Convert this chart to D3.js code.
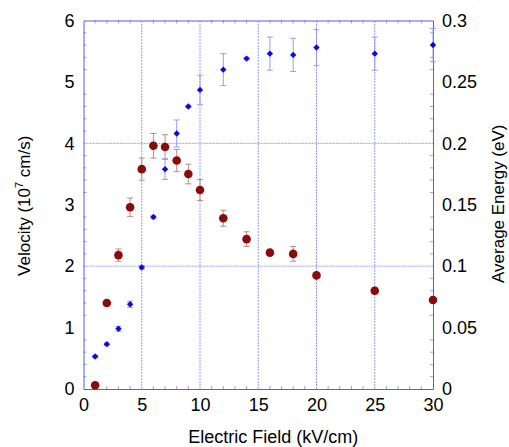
<!DOCTYPE html>
<html>
<head>
<meta charset="utf-8">
<script src="https://cdn.jsdelivr.net/npm/d3@7"></script>
<style>
  body { margin: 0; background: #fff; }
  text { font-family: "Liberation Sans", Arial, sans-serif; fill: #000; }
</style>
</head>
<body>
<svg id="chart" width="509" height="447"></svg>
<script>
// electric field (kV/cm)
var fieldV = [1, 2, 3, 4, 5, 6, 7, 8, 9, 10, 12, 14, 16, 18, 20, 25, 30];
// velocity (10^7 cm/s) and its error
var velocity = [0.53, 0.73, 0.98, 1.38, 1.98, 2.80, 3.58, 4.16, 4.60, 4.87, 5.20, 5.38, 5.46, 5.44, 5.56, 5.46, 5.60];
var velocityErr = [0.02, 0.02, 0.04, 0.05, 0.03, 0.02, 0.17, 0.22, 0.02, 0.24, 0.26, 0.02, 0.27, 0.27, 0.29, 0.27, 0.27];

var fieldE = [1, 2, 3, 4, 5, 6, 7, 8, 9, 10, 12, 14, 16, 18, 20, 25, 30];
// average energy (eV) and its error
var energy = [0.003, 0.070, 0.109, 0.148, 0.179, 0.198, 0.197, 0.186, 0.175, 0.162, 0.139, 0.122, 0.111, 0.110, 0.0925, 0.080, 0.0725];
var energyErr = [0.001, 0.001, 0.005, 0.0075, 0.009, 0.010, 0.010, 0.009, 0.008, 0.0085, 0.0065, 0.006, 0.001, 0.006, 0.001, 0.0025, 0.0015];

var xTicks = [0, 5, 10, 15, 20, 25, 30];
var yLeftTicks = [0, 1, 2, 3, 4, 5, 6];
var yRightTicks = [0, 0.05, 0.1, 0.15, 0.2, 0.25, 0.3];

var margin = {left: 83.5, right: 76, top: 20.5, bottom: 58};
var width = 509, height = 447;
var axisColor = "#5a5ae0";

var svg = d3.select("#chart");

var x = d3.scaleLinear().domain([0, 30]).range([margin.left, width - margin.right]);
var yL = d3.scaleLinear().domain([0, 6]).range([height - margin.bottom, margin.top]);
var yR = d3.scaleLinear().domain([0, 0.3]).range([height - margin.bottom, margin.top]);

var plot = svg.append("g");

// grid lines
plot.selectAll(".vgrid")
    .data([5, 10, 15, 20, 25])
    .enter().append("line")
    .attr("x1", x).attr("x2", x)
    .attr("y1", yL(0)).attr("y2", yL(6))
    .attr("stroke", "#9a9af5")
    .attr("stroke-width", 1)
    .attr("stroke-dasharray", "2,1");

plot.selectAll(".hgrid")
    .data([2, 4])
    .enter().append("line")
    .attr("x1", x(0)).attr("x2", x(30))
    .attr("y1", yL).attr("y2", yL)
    .attr("stroke", "#9a9af5")
    .attr("stroke-width", 1)
    .attr("stroke-dasharray", "2,1");

// axes
var bottomAxis = d3.axisBottom(x).tickValues(xTicks).tickSize(0).tickPadding(9);
svg.append("g")
    .attr("transform", "translate(0," + yL(0) + ")")
    .call(bottomAxis);

var leftAxis = d3.axisLeft(yL).tickValues(yLeftTicks).tickSize(0).tickPadding(9)
    .tickFormat(d3.format("d"));
svg.append("g")
    .attr("transform", "translate(" + x(0) + ",0)")
    .call(leftAxis);

var rightAxis = d3.axisRight(yR).tickValues(yRightTicks).tickSize(0).tickPadding(9)
    .tickFormat(function(d) { return String(+d.toFixed(2)); });
svg.append("g")
    .attr("transform", "translate(" + x(30) + ",0)")
    .call(rightAxis);

var topAxis = d3.axisTop(x).tickValues([]).tickSize(0);
svg.append("g")
    .attr("transform", "translate(0," + yL(6) + ")")
    .call(topAxis);

svg.selectAll(".domain").attr("stroke", axisColor);
svg.selectAll(".tick text").style("font-size", "18px").attr("fill", "#000");

// minor ticks (inward)
var minorX = d3.range(1, 30).filter(function(d) { return d % 5 != 0; });
var minorY = d3.range(1, 30).map(function(d) { return d * 0.2; })
    .filter(function(d) { return Math.abs(d - Math.round(d)) > 0.01; });

svg.selectAll(".mxb").data(minorX).enter().append("line")
    .attr("x1", x).attr("x2", x)
    .attr("y1", yL(0)).attr("y2", yL(0) - 3)
    .attr("stroke", axisColor).attr("stroke-opacity", 0.6);
svg.selectAll(".mxt").data(minorX).enter().append("line")
    .attr("x1", x).attr("x2", x)
    .attr("y1", yL(6)).attr("y2", yL(6) + 3)
    .attr("stroke", axisColor).attr("stroke-opacity", 0.6);
svg.selectAll(".myl").data(minorY).enter().append("line")
    .attr("x1", x(0)).attr("x2", x(0) + 3)
    .attr("y1", yL).attr("y2", yL)
    .attr("stroke", axisColor).attr("stroke-opacity", 0.6);
svg.selectAll(".myr").data(minorY).enter().append("line")
    .attr("x1", x(30)).attr("x2", x(30) - 3)
    .attr("y1", yL).attr("y2", yL)
    .attr("stroke", axisColor).attr("stroke-opacity", 0.6);

// energy series (red, right axis)
var red = "#8b0a0a";
var eData = fieldE.map(function(f, i) { return {x: f, y: energy[i], e: energyErr[i]}; });

var eErr = svg.append("g").selectAll("g").data(eData).enter().append("g")
    .attr("stroke", "#c08a8a").attr("stroke-width", 1);
eErr.append("line")
    .attr("x1", function(d) { return x(d.x); }).attr("x2", function(d) { return x(d.x); })
    .attr("y1", function(d) { return yR(d.y - d.e); }).attr("y2", function(d) { return yR(d.y + d.e); });
eErr.append("line")
    .attr("x1", function(d) { return x(d.x) - 3; }).attr("x2", function(d) { return x(d.x) + 3; })
    .attr("y1", function(d) { return yR(d.y - d.e); }).attr("y2", function(d) { return yR(d.y - d.e); });
eErr.append("line")
    .attr("x1", function(d) { return x(d.x) - 3; }).attr("x2", function(d) { return x(d.x) + 3; })
    .attr("y1", function(d) { return yR(d.y + d.e); }).attr("y2", function(d) { return yR(d.y + d.e); });

svg.append("g").selectAll("circle").data(eData).enter().append("circle")
    .attr("cx", function(d) { return x(d.x); })
    .attr("cy", function(d) { return yR(d.y); })
    .attr("r", 4.3)
    .attr("fill", red);

// velocity series (blue, left axis)
var blue = "#0a0ae0";
var vData = fieldV.map(function(f, i) { return {x: f, y: velocity[i], e: velocityErr[i]}; });

var vErr = svg.append("g").selectAll("g").data(vData).enter().append("g")
    .attr("stroke", "#9a9af2").attr("stroke-width", 1);
vErr.append("line")
    .attr("x1", function(d) { return x(d.x); }).attr("x2", function(d) { return x(d.x); })
    .attr("y1", function(d) { return yL(d.y - d.e); }).attr("y2", function(d) { return yL(d.y + d.e); });
vErr.append("line")
    .attr("x1", function(d) { return x(d.x) - 3; }).attr("x2", function(d) { return x(d.x) + 3; })
    .attr("y1", function(d) { return yL(d.y - d.e); }).attr("y2", function(d) { return yL(d.y - d.e); });
vErr.append("line")
    .attr("x1", function(d) { return x(d.x) - 3; }).attr("x2", function(d) { return x(d.x) + 3; })
    .attr("y1", function(d) { return yL(d.y + d.e); }).attr("y2", function(d) { return yL(d.y + d.e); });

svg.append("g").selectAll("path").data(vData).enter().append("path")
    .attr("d", d3.symbol().type(d3.symbolDiamond2).size(26))
    .attr("transform", function(d) { return "translate(" + x(d.x) + "," + yL(d.y) + ")"; })
    .attr("fill", blue);

// axis titles
svg.append("text")
    .attr("x", (x(0) + x(30)) / 2 + 15)
    .attr("y", 443)
    .attr("text-anchor", "middle")
    .style("font-size", "18px")
    .text("Electric Field (kV/cm)");

var vl = svg.append("text")
    .attr("transform", "translate(30," + (yL(3) + 1) + ") rotate(-90)")
    .attr("text-anchor", "middle")
    .style("font-size", "17px");
vl.append("tspan").text("Velocity (10");
vl.append("tspan").attr("dy", -7).style("font-size", "11px").text("7");
vl.append("tspan").attr("dy", 7).text(" cm/s)");

svg.append("text")
    .attr("transform", "translate(504," + (yL(3) - 1) + ") rotate(-90)")
    .attr("text-anchor", "middle")
    .style("font-size", "17px")
    .text("Average Energy (eV)");
</script>
</body>
</html>
